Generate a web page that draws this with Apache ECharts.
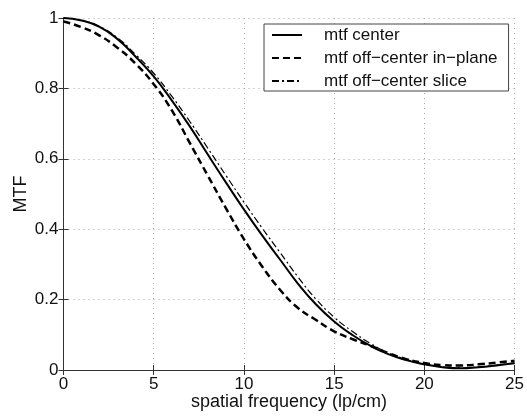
<!DOCTYPE html>
<html>
<head>
<meta charset="utf-8">
<script src="https://cdn.jsdelivr.net/npm/echarts@6/dist/echarts.min.js"></script>
<style>html,body{margin:0;padding:0;background:#fff}#c{width:527px;height:416px}</style>
</head>
<body>
<div id="c"></div>
<script>
var freq = [0,1,2,3,4,5,6,7,8,9,10,11,12,13,14,15,16,17,18,19,20,21,22,23,24,25];
var mtfCenter = [1.000,0.993,0.975,0.940,0.890,0.834,0.766,0.692,0.612,0.533,0.456,0.383,0.314,0.245,0.186,0.138,0.100,0.069,0.045,0.028,0.016,0.008,0.005,0.008,0.013,0.019];
var mtfInPlane = [0.990,0.974,0.950,0.915,0.870,0.812,0.738,0.645,0.552,0.460,0.372,0.295,0.228,0.176,0.142,0.110,0.088,0.069,0.048,0.031,0.020,0.014,0.013,0.016,0.021,0.026];
var mtfSlice = [1.000,0.993,0.976,0.943,0.896,0.843,0.778,0.706,0.630,0.553,0.477,0.404,0.334,0.264,0.201,0.150,0.110,0.076,0.049,0.030,0.017,0.009,0.006,0.009,0.014,0.020];
var seriesNames = ['mtf center','mtf off\u2212center in\u2212plane','mtf off\u2212center slice'];
var xTicks = {min:0, max:25, step:5};
var yTicks = {min:0, max:1, step:0.2};

function pairs(xs, ys){ return xs.map(function(x,i){ return [x, ys[i]]; }); }

var FONT = 'Liberation Sans';
var axisCol = '#333';
var gridLine = {show:true, lineStyle:{color:'#a8a8a8', type:[1,4], width:1}};
var chart = echarts.init(document.getElementById('c'));
chart.setOption({
  animation:false,
  backgroundColor:'#fff',
  grid:{left:63.5, right:10, top:18, bottom:40, containLabel:false},
  legend:{
    left:264, top:24, orient:'vertical',
    backgroundColor:'#fff', borderColor:'#444', borderWidth:1, borderRadius:0,
    padding:[2,11,1,7], itemGap:5, itemWidth:30, itemHeight:14,
    itemStyle:{opacity:0},
    formatter:function(name){ return '{g|\u00a0}' + name; },
    textStyle:{fontFamily:FONT, fontSize:17, color:'#111', lineHeight:18,
      rich:{g:{width:17, fontSize:17}}},
    data:seriesNames
  },
  xAxis:[{
    type:'value', min:xTicks.min, max:xTicks.max, interval:xTicks.step,
    name:'spatial frequency (lp/cm)', nameLocation:'middle', nameGap:23, nameMoveOverlap:false,
    nameTextStyle:{fontFamily:FONT, fontSize:18, color:'#111'},
    axisLine:{show:true, lineStyle:{color:axisCol, width:1}},
    axisTick:{show:true, inside:true, length:5, lineStyle:{color:axisCol}},
    axisLabel:{fontFamily:FONT, fontSize:17, color:'#111', margin:6},
    splitLine:gridLine
  },{
    type:'value', position:'top', min:xTicks.min, max:xTicks.max, interval:xTicks.step,
    axisLine:{show:true, lineStyle:{color:axisCol, width:1}},
    axisTick:{show:true, inside:true, length:5, lineStyle:{color:axisCol}},
    axisLabel:{show:false}, splitLine:{show:false}
  }],
  yAxis:[{
    type:'value', min:yTicks.min, max:yTicks.max, interval:yTicks.step,
    name:'MTF', nameLocation:'middle', nameGap:33, nameMoveOverlap:false,
    nameTextStyle:{fontFamily:FONT, fontSize:18, color:'#111'},
    axisLine:{show:true, lineStyle:{color:axisCol, width:1}},
    axisTick:{show:true, inside:true, length:5, lineStyle:{color:axisCol}},
    axisLabel:{fontFamily:FONT, fontSize:17, color:'#111', margin:5},
    splitLine:gridLine
  },{
    type:'value', position:'right', min:yTicks.min, max:yTicks.max, interval:yTicks.step,
    axisLine:{show:true, lineStyle:{color:axisCol, width:1}},
    axisTick:{show:true, inside:true, length:5, lineStyle:{color:axisCol}},
    axisLabel:{show:false}, splitLine:{show:false}
  }],
  series:[
    {name:seriesNames[0], type:'line', smooth:true, symbol:'none', data:pairs(freq,mtfCenter),
     lineStyle:{color:'#000', width:2, type:'solid'}, itemStyle:{color:'#000'}},
    {name:seriesNames[1], type:'line', smooth:true, symbol:'none', data:pairs(freq,mtfInPlane),
     lineStyle:{color:'#000', width:2.5, type:[7,4]}, itemStyle:{color:'#000'}},
    {name:seriesNames[2], type:'line', smooth:true, symbol:'none', data:pairs(freq,mtfSlice),
     lineStyle:{color:'#000', width:1.2, type:[7,3,2,3]}, itemStyle:{color:'#000'}}
  ]
});
</script>
</body>
</html>
